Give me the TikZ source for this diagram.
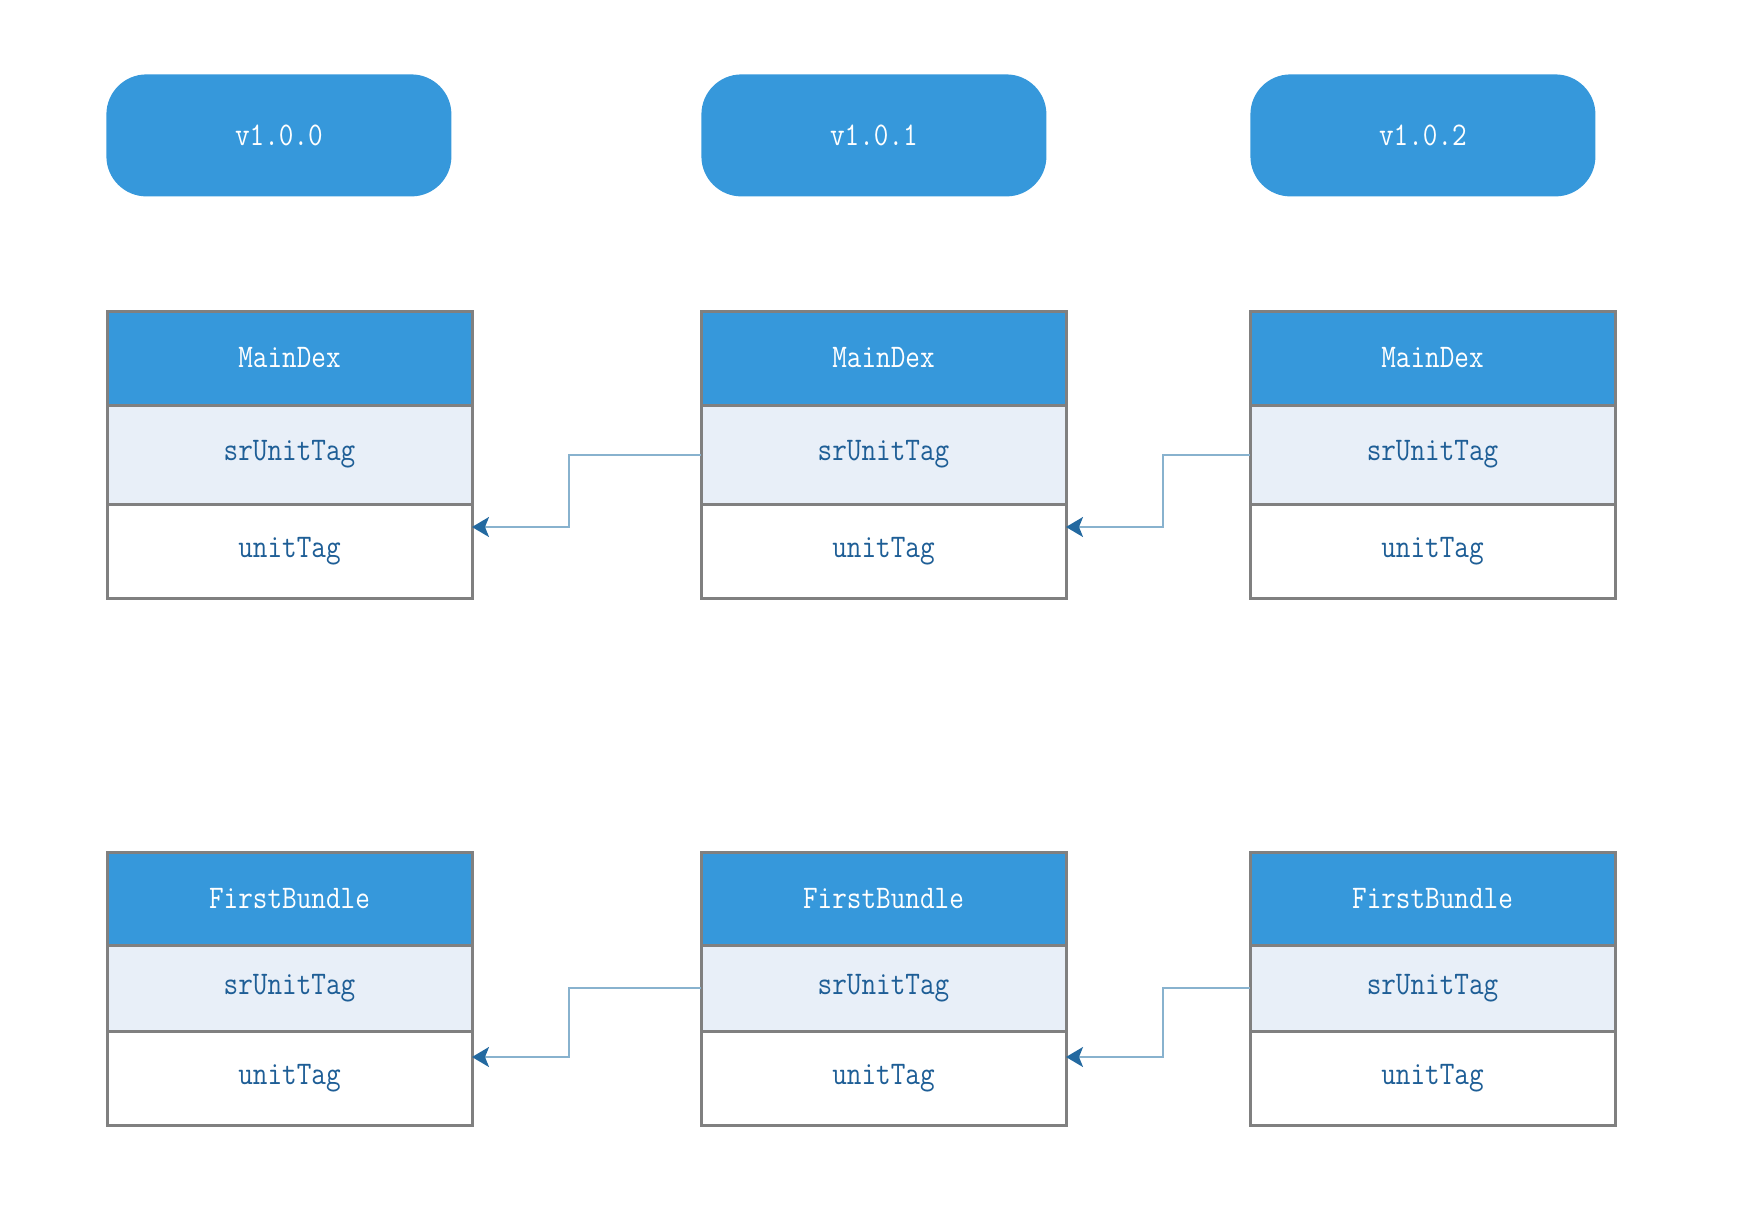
\documentclass[tikz,border=0pt]{standalone}
\usepackage{fontspec}
\setmonofont{Latin Modern Mono}[FakeStretch=0.86]
\usepackage{xcolor}
\usepackage{tikz}
\usetikzlibrary{arrows.meta,calc,positioning}
\definecolor{headblue}{RGB}{54,152,219}
\definecolor{rowblue}{RGB}{232,239,248}
\definecolor{boxgray}{RGB}{128,128,128}
\definecolor{textblue}{RGB}{30,94,150}
\definecolor{lineblue}{RGB}{136,178,206}
\definecolor{tipblue}{RGB}{35,105,160}

\begin{document}
\begin{tikzpicture}[x=0.5pt, y=-0.5pt, node distance=0pt]
        \tikzset{
            version/.style={rectangle, rounded corners=20pt, fill=headblue, text=white, minimum width=172.5pt, minimum height=61pt, anchor=north west, font=\ttfamily\fontsize{16.5}{18}\selectfont},
            cell/.style={rectangle, draw=boxgray, line width=1.5pt, outer sep=0pt, minimum width=182.5pt, text=textblue, font=\ttfamily\fontsize{16.5}{18}\selectfont},
            head/.style={cell, fill=headblue, text=white},
            field/.style={cell, fill=rowblue},
            plain/.style={cell, fill=white},
            link/.style={draw=lineblue, line width=1pt, -{Stealth[length=8.5pt, width=10pt, inset=2pt, color=tipblue]}}
        }
        \useasboundingbox (0,0) rectangle (1748,1210);

        % Versions
        \node (ver1) [version] at (106,74) {v1.0.0};
        \node (ver2) [version] at (701,74) {v1.0.1};
        \node (ver3) [version] at (1250,74) {v1.0.2};

        % MainDex
        \node (main1) [head, anchor=north west, minimum height=47pt] at (107,311) {MainDex};
        \node (mainsr1) [field, below=of main1, minimum height=49.5pt] {srUnitTag};
        \node (mainunit1) [plain, below=of mainsr1, minimum height=47pt] {unitTag};
        \node (main2) [head, anchor=north west, minimum height=47pt] at (701,311) {MainDex};
        \node (mainsr2) [field, below=of main2, minimum height=49.5pt] {srUnitTag};
        \node (mainunit2) [plain, below=of mainsr2, minimum height=47pt] {unitTag};
        \node (main3) [head, anchor=north west, minimum height=47pt] at (1250,311) {MainDex};
        \node (mainsr3) [field, below=of main3, minimum height=49.5pt] {srUnitTag};
        \node (mainunit3) [plain, below=of mainsr3, minimum height=47pt] {unitTag};

        % FirstBundle
        \node (bundle1) [head, anchor=north west, minimum height=46.5pt] at (107,852) {FirstBundle};
        \node (bundlesr1) [field, below=of bundle1, minimum height=43pt] {srUnitTag};
        \node (bundleunit1) [plain, below=of bundlesr1, minimum height=47pt] {unitTag};
        \node (bundle2) [head, anchor=north west, minimum height=46.5pt] at (701,852) {FirstBundle};
        \node (bundlesr2) [field, below=of bundle2, minimum height=43pt] {srUnitTag};
        \node (bundleunit2) [plain, below=of bundlesr2, minimum height=47pt] {unitTag};
        \node (bundle3) [head, anchor=north west, minimum height=46.5pt] at (1250,852) {FirstBundle};
        \node (bundlesr3) [field, below=of bundle3, minimum height=43pt] {srUnitTag};
        \node (bundleunit3) [plain, below=of bundlesr3, minimum height=47pt] {unitTag};

        % Arrows
        \coordinate (mainin1) at ($(mainunit1.north east)+(0,23)$);
        \coordinate (mainin2) at ($(mainunit2.north east)+(0,23)$);
        \coordinate (bundlein1) at ($(bundleunit1.north east)+(0,26)$);
        \coordinate (bundlein2) at ($(bundleunit2.north east)+(0,26)$);
        \draw [link] (mainsr2.west) -| ($(mainin1)+(97,0)$) -- (mainin1);
        \draw [link] (mainsr3.west) -| ($(mainin2)+(97,0)$) -- (mainin2);
        \draw [link] (bundlesr2.west) -| ($(bundlein1)+(97,0)$) -- (bundlein1);
        \draw [link] (bundlesr3.west) -| ($(bundlein2)+(97,0)$) -- (bundlein2);
    \end{tikzpicture}
\end{document}
